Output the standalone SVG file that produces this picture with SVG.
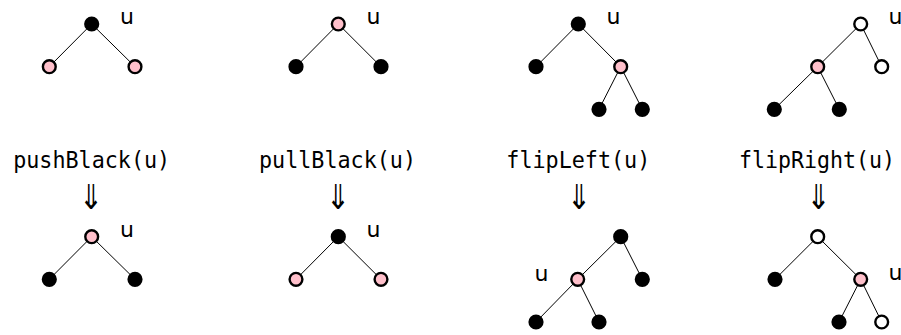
<svg xmlns="http://www.w3.org/2000/svg" width="901" height="335" viewBox="0 0 901 335">
<style>
.b{fill:#000;stroke:#000;stroke-width:2.4}
.r{fill:#ffc0cb;stroke:#000;stroke-width:2.4}
.w{fill:#fff;stroke:#000;stroke-width:2.4}
.e line{stroke:#000;stroke-width:1}
.u{font-family:"DejaVu Sans",sans-serif;font-size:22px;fill:#000}
.op{font-family:"DejaVu Sans Mono",monospace;font-size:22.5px;fill:#000;text-anchor:middle}
.ar{font-family:"DejaVu Sans Mono","DejaVu Sans",monospace;font-size:30px;fill:#000;text-anchor:middle}
</style>
<rect width="901" height="335" fill="#fff"/>
<g id="connectors" class="e">
<line x1="91.7" y1="24" x2="49.3" y2="66.7"/><line x1="91.7" y1="24" x2="135" y2="66.7"/>
<line x1="338.3" y1="24" x2="296" y2="66.7"/><line x1="338.3" y1="24" x2="381" y2="66.7"/>
<line x1="578.3" y1="24" x2="536" y2="66.7"/><line x1="578.3" y1="24" x2="620.7" y2="66.7"/>
<line x1="620.7" y1="66.7" x2="599" y2="109.3"/><line x1="620.7" y1="66.7" x2="642.3" y2="109.3"/>
<line x1="860.7" y1="24" x2="817.7" y2="66.7"/><line x1="860.7" y1="24" x2="881.7" y2="66.7"/>
<line x1="817.7" y1="66.7" x2="774.3" y2="109.3"/><line x1="817.7" y1="66.7" x2="839.3" y2="109.3"/>
<line x1="91.7" y1="236.7" x2="49.3" y2="279.3"/><line x1="91.7" y1="236.7" x2="135" y2="279.3"/>
<line x1="338.3" y1="236.7" x2="296" y2="279.3"/><line x1="338.3" y1="236.7" x2="381" y2="279.3"/>
<line x1="620.7" y1="236.7" x2="577.7" y2="279.3"/><line x1="620.7" y1="236.7" x2="642.3" y2="279.3"/>
<line x1="577.7" y1="279.3" x2="536" y2="322"/><line x1="577.7" y1="279.3" x2="599" y2="322"/>
<line x1="817.7" y1="236.7" x2="775" y2="279.3"/><line x1="817.7" y1="236.7" x2="860.7" y2="279.3"/>
<line x1="860.7" y1="279.3" x2="839" y2="322"/><line x1="860.7" y1="279.3" x2="881.7" y2="322"/>
</g>
<g id="pushBlack-before">
<circle class="b" cx="91.7" cy="24" r="6.4"/><circle class="r" cx="49.3" cy="66.7" r="6.4"/><circle class="r" cx="135" cy="66.7" r="6.4"/>
<text class="u" x="120" y="24">u</text>
</g>
<g id="pullBlack-before">
<circle class="r" cx="338.3" cy="24" r="6.4"/><circle class="b" cx="296" cy="66.7" r="6.4"/><circle class="b" cx="381" cy="66.7" r="6.4"/>
<text class="u" x="366.5" y="24">u</text>
</g>
<g id="flipLeft-before">
<circle class="b" cx="578.3" cy="24" r="6.4"/><circle class="b" cx="536" cy="66.7" r="6.4"/><circle class="r" cx="620.7" cy="66.7" r="6.4"/>
<circle class="b" cx="599" cy="109.3" r="6.4"/><circle class="b" cx="642.3" cy="109.3" r="6.4"/>
<text class="u" x="606.5" y="24">u</text>
</g>
<g id="flipRight-before">
<circle class="w" cx="860.7" cy="24" r="6.4"/><circle class="r" cx="817.7" cy="66.7" r="6.4"/><circle class="w" cx="881.7" cy="66.7" r="6.4"/>
<circle class="b" cx="774.3" cy="109.3" r="6.4"/><circle class="b" cx="839.3" cy="109.3" r="6.4"/>
<text class="u" x="888.5" y="24">u</text>
</g>
<g id="labels">
<text class="op" x="91.7" y="168" textLength="157" lengthAdjust="spacingAndGlyphs">pushBlack(u)</text>
<text class="op" x="337.5" y="168" textLength="157" lengthAdjust="spacingAndGlyphs">pullBlack(u)</text>
<text class="op" x="578.3" y="168" textLength="144" lengthAdjust="spacingAndGlyphs">flipLeft(u)</text>
<text class="op" x="817" y="168" textLength="156" lengthAdjust="spacingAndGlyphs">flipRight(u)</text>
<text class="ar" transform="translate(91,209) scale(1.25,1.55)">⇓</text>
<text class="ar" transform="translate(338,209) scale(1.25,1.55)">⇓</text>
<text class="ar" transform="translate(579,209) scale(1.25,1.55)">⇓</text>
<text class="ar" transform="translate(818.5,209) scale(1.25,1.55)">⇓</text>
</g>
<g id="pushBlack-after">
<circle class="r" cx="91.7" cy="236.7" r="6.4"/><circle class="b" cx="49.3" cy="279.3" r="6.4"/><circle class="b" cx="135" cy="279.3" r="6.4"/>
<text class="u" x="120" y="236.7">u</text>
</g>
<g id="pullBlack-after">
<circle class="b" cx="338.3" cy="236.7" r="6.4"/><circle class="r" cx="296" cy="279.3" r="6.4"/><circle class="r" cx="381" cy="279.3" r="6.4"/>
<text class="u" x="366.5" y="236.7">u</text>
</g>
<g id="flipLeft-after">
<circle class="b" cx="620.7" cy="236.7" r="6.4"/><circle class="r" cx="577.7" cy="279.3" r="6.4"/><circle class="b" cx="642.3" cy="279.3" r="6.4"/>
<circle class="b" cx="536" cy="322" r="6.4"/><circle class="b" cx="599" cy="322" r="6.4"/>
<text class="u" x="534.5" y="280.5">u</text>
</g>
<g id="flipRight-after">
<circle class="w" cx="817.7" cy="236.7" r="6.4"/><circle class="b" cx="775" cy="279.3" r="6.4"/><circle class="r" cx="860.7" cy="279.3" r="6.4"/>
<circle class="b" cx="839" cy="322" r="6.4"/><circle class="w" cx="881.7" cy="322" r="6.4"/>
<text class="u" x="888.5" y="280">u</text>
</g>
</svg>
